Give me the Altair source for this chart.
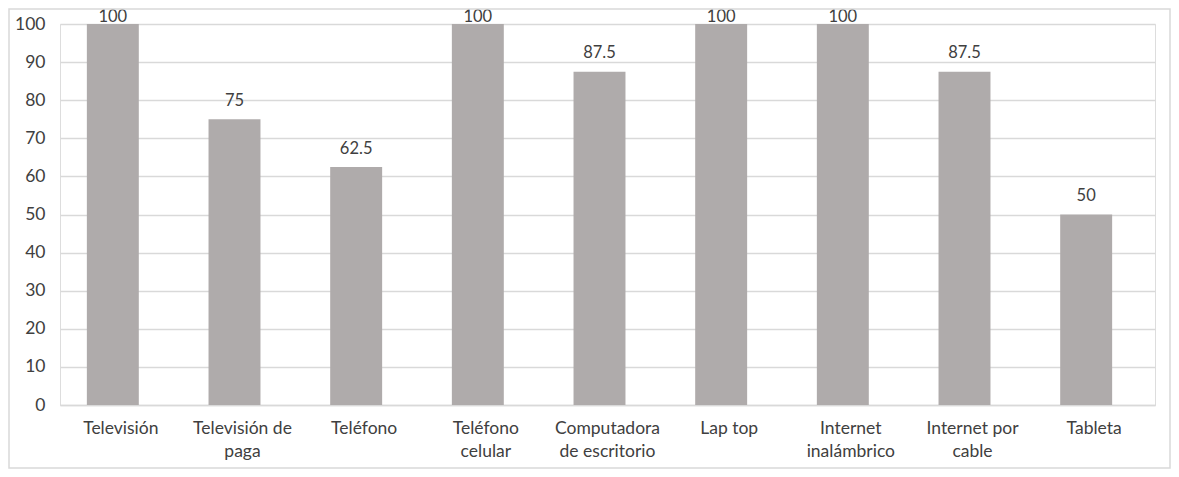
import altair as alt
import pandas as pd

categories = ["Televisión", "Televisión de paga", "Teléfono", "Teléfono celular",
              "Computadora de escritorio", "Lap top", "Internet inalámbrico",
              "Internet por cable", "Tableta"]
values = [100, 75, 62.5, 100, 87.5, 100, 100, 87.5, 50]
value_labels = ["100", "75", "62.5", "100", "87.5", "100", "100", "87.5", "50"]
wrapped = {
    "Televisión": ["Televisión"],
    "Televisión de paga": ["Televisión de", "paga"],
    "Teléfono": ["Teléfono"],
    "Teléfono celular": ["Teléfono", "celular"],
    "Computadora de escritorio": ["Computadora", "de escritorio"],
    "Lap top": ["Lap top"],
    "Internet inalámbrico": ["Internet", "inalámbrico"],
    "Internet por cable": ["Internet por", "cable"],
    "Tableta": ["Tableta"],
}
y_ticks = list(range(0, 101, 10))

df = pd.DataFrame({"cat": categories, "v": values, "lab": value_labels})

label_expr = "{" + ",".join(
    f"'{k}': [" + ",".join(f"'{l}'" for l in v) + "]" for k, v in wrapped.items()
) + "}[datum.label]"

FONT = "Lato"
FS = 17.5
TXT = "#404040"
W, H = 1095, 381
SHIFT = -8

x_axis = alt.Axis(labelAngle=0, labelExpr=label_expr, labelFont=FONT,
                  labelFontSize=FS, labelColor=TXT, ticks=False,
                  domainColor="#D9D9D9", domainWidth=1.3, labelPadding=14,
                  labelLineHeight=23)
y_axis = alt.Axis(values=y_ticks, labelFont=FONT, labelFontSize=FS,
                  labelColor=TXT, ticks=False, domain=False, labelOverlap=False,
                  gridColor="#D9D9D9", gridWidth=1.3, labelPadding=15)
x_scale = alt.Scale(paddingInner=0.573, paddingOuter=0.2865)
y_scale = alt.Scale(domain=[0, 100], nice=False)

bars = alt.Chart(df).mark_bar(color="#AFABAB", xOffset=SHIFT).encode(
    x=alt.X("cat:N", sort=categories, title=None, scale=x_scale, axis=x_axis),
    y=alt.Y("v:Q", title=None, scale=y_scale, axis=y_axis),
)

text = alt.Chart(df).transform_calculate(
    ty="min(datum.v + 3.48, 100.5)"
).mark_text(font=FONT, fontSize=16.5, color=TXT, baseline="alphabetic",
            xOffset=SHIFT).encode(
    x=alt.X("cat:N", sort=categories, title=None, scale=x_scale, axis=x_axis),
    y=alt.Y("ty:Q", title=None, scale=y_scale, axis=y_axis),
    text="lab:N",
)

border = alt.Chart(pd.DataFrame({"a": [0]})).mark_rect(
    fill=None, stroke="#D9D9D9", strokeWidth=1.5
).encode(
    x=alt.value(-51), x2=alt.value(1110), y=alt.value(-15), y2=alt.value(444)
)

chart = alt.layer(bars, text, border).properties(
    width=W, height=H,
    autosize=alt.AutoSizeParams(type="none"),
    padding={"left": 52, "top": 16, "right": 16, "bottom": 64},
).configure_view(stroke=None).configure(background="white")

chart.save("out.html", embed_options={"renderer": "svg", "actions": False})
